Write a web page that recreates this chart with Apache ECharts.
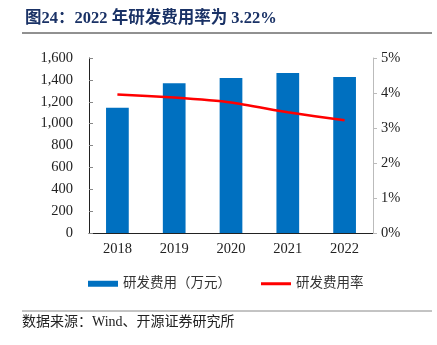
<!DOCTYPE html>
<html><head><meta charset="utf-8">
<script src="https://cdn.jsdelivr.net/npm/echarts@6/dist/echarts.min.js"></script>
<style>html,body{margin:0;padding:0;background:#fff}#c{width:437px;height:345px}</style>
</head><body><div id="c"></div>
<script>
var categories = ['2018','2019','2020','2021','2022'];
var rdExpense = [1146, 1369, 1417, 1463, 1426];
var rdRate = [3.96, 3.87, 3.73, 3.45, 3.22];
var leftTicks = {min: 0, max: 1600, interval: 200};
var rightTicks = {min: 0, max: 5, interval: 1};

var serif = '"Liberation Serif","Times New Roman","Noto Sans CJK SC",serif';
var chart = echarts.init(document.getElementById('c'), null, {renderer: 'canvas'});
chart.setOption({
  animation: false,
  backgroundColor: '#fff',
  title: {
    text: '图24：2022 年研发费用率为 3.22%',
    left: 20, top: 5,
    textStyle: {fontFamily: serif, fontSize: 16.5, fontWeight: 'bold', color: '#1A3266'}
  },
  graphic: [
    {type: 'line', shape: {x1: 22, y1: 33, x2: 432, y2: 33}, style: {stroke: '#222', lineWidth: 1}},
    {type: 'line', shape: {x1: 22, y1: 311, x2: 432, y2: 311}, style: {stroke: '#888', lineWidth: 1}},
    {type: 'text', left: 22, top: 315, style: {text: '数据来源：Wind、开源证券研究所', font: '14px ' + serif, fill: '#222'}}
  ],
  legend: {
    left: 83, top: 272, itemWidth: 30, itemHeight: 6, itemGap: 30,
    textStyle: {fontFamily: serif, fontSize: 13.5, color: '#333'},
    data: [
      {name: '研发费用（万元）', icon: 'rect'},
      {name: '研发费用率', icon: 'path://M0,0H30V3H0Z'}
    ]
  },
  grid: {left: 89, right: 64, top: 58, bottom: 112},
  xAxis: {
    type: 'category', data: categories, boundaryGap: true,
    axisLine: {lineStyle: {color: '#222'}},
    axisTick: {inside: true, length: 4, lineStyle: {color: '#888'}},
    axisLabel: {fontFamily: serif, fontSize: 14.5, color: '#222', margin: 9}
  },
  yAxis: [
    {
      type: 'value', min: leftTicks.min, max: leftTicks.max, interval: leftTicks.interval,
      splitLine: {show: false},
      axisLine: {show: true, lineStyle: {color: '#222'}},
      axisTick: {show: true, inside: true, length: 4, lineStyle: {color: '#888'}},
      axisLabel: {fontFamily: serif, fontSize: 14.5, color: '#222', margin: 16,
        formatter: function(v){return v.toLocaleString('en-US');}}
    },
    {
      type: 'value', min: rightTicks.min, max: rightTicks.max, interval: rightTicks.interval,
      splitLine: {show: false},
      axisLine: {show: true, lineStyle: {color: '#bbb'}},
      axisTick: {show: true, length: 4, lineStyle: {color: '#bbb'}},
      axisLabel: {fontFamily: serif, fontSize: 14.5, color: '#222', margin: 8,
        formatter: function(v){return v + '%';}}
    }
  ],
  series: [
    {name: '研发费用（万元）', type: 'bar', data: rdExpense, barWidth: '40%',
      itemStyle: {color: '#0070C0'}},
    {name: '研发费用率', type: 'line', yAxisIndex: 1, data: rdRate, symbol: 'none',
      smooth: 0.2, lineStyle: {color: '#FF0000', width: 2.5}, itemStyle: {color: '#FF0000'}}
  ]
});
</script></body></html>
